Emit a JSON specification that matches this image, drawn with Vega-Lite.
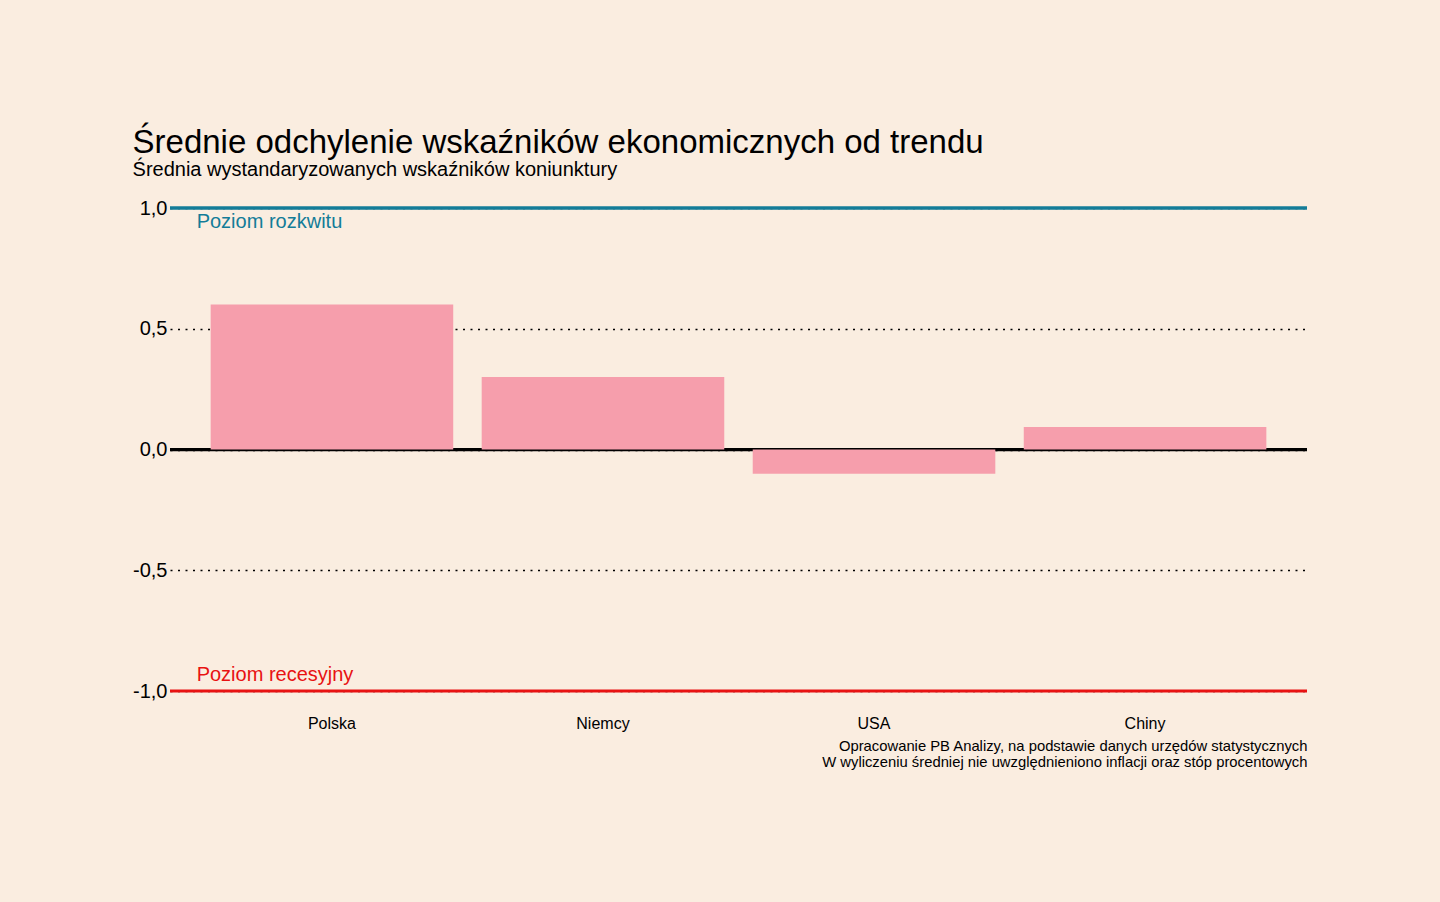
{
  "$schema": "https://vega.github.io/schema/vega-lite/v6.json",
  "autosize": "none",
  "padding": {"left": 170, "top": 208, "right": 133, "bottom": 211},
  "width": 1137,
  "height": 483,
  "background": "#FAEDE0",
  "config": {
    "font": "Liberation Sans",
    "view": {"stroke": null}
  },
  "title": {
    "text": "Średnie odchylenie wskaźników ekonomicznych od trendu",
    "subtitle": "Średnia wystandaryzowanych wskaźników koniunktury",
    "anchor": "start",
    "frame": "bounds",
    "fontSize": 33,
    "fontWeight": "normal",
    "color": "#000000",
    "subtitleFontSize": 20,
    "subtitleColor": "#000000",
    "subtitlePadding": 0,
    "offset": 18
  },
  "datasets": {
    "levels": [
      {"value": 1, "kind": "rozkwit"},
      {"value": 0, "kind": "zero"},
      {"value": -1, "kind": "recesja"}
    ],
    "countries": [
      {"country": "Polska", "value": 0.6},
      {"country": "Niemcy", "value": 0.3},
      {"country": "USA", "value": -0.1},
      {"country": "Chiny", "value": 0.093}
    ],
    "labels": [
      {"country": "Polska", "value": 1, "label": "Poziom rozkwitu", "kind": "rozkwit"},
      {"country": "Polska", "value": -1, "label": "Poziom recesyjny", "kind": "recesja"}
    ]
  },
  "encoding": {
    "x": {
      "field": "country",
      "type": "nominal",
      "scale": {"domain": ["Polska", "Niemcy", "USA", "Chiny"], "paddingInner": 0.105, "paddingOuter": 0.15}
    },
    "y": {"field": "value", "type": "quantitative", "scale": {"domain": [-1, 1]}}
  },
  "layer": [
    {
      "data": {"name": "levels"},
      "mark": {"type": "rule"},
      "encoding": {
        "x": null,
        "color": {
          "field": "kind",
          "type": "nominal",
          "scale": {"domain": ["rozkwit", "zero", "recesja"], "range": ["#137C98", "#000000", "#E81212"]},
          "legend": null
        },
        "strokeWidth": {
          "field": "kind",
          "type": "nominal",
          "scale": {"domain": ["rozkwit", "zero", "recesja"], "range": [3.5, 3, 3.5]},
          "legend": null
        }
      }
    },
    {
      "data": {"name": "countries"},
      "mark": {"type": "bar", "color": "#F69EAC"},
      "encoding": {
        "x": {
          "field": "country",
          "type": "nominal",
          "axis": {
            "title": [
              "Opracowanie PB Analizy, na podstawie danych urzędów statystycznych",
              "W wyliczeniu średniej nie uwzględnieniono inflacji oraz stóp procentowych"
            ],
            "titleAnchor": "end",
            "titleAlign": "right",
            "titleBaseline": "top",
            "titleFontSize": 14.8,
            "titleFontWeight": "normal",
            "titleColor": "#000000",
            "titleLineHeight": 16,
            "titlePadding": 7,
            "labelAngle": 0,
            "labelFontSize": 16,
            "labelColor": "#000000",
            "labelPadding": 24,
            "domain": false,
            "ticks": false,
            "grid": false
          }
        },
        "y": {
          "field": "value",
          "type": "quantitative",
          "axis": {
            "title": null,
            "values": [-1, -0.5, 0, 0.5, 1],
            "labelExpr": "replace(replace(format(datum.value, '.1f'), '.', ','), '\u2212', '-')",
            "labelFontSize": 20,
            "labelColor": "#000000",
            "labelPadding": 3,
            "domain": false,
            "ticks": false,
            "grid": true,
            "gridColor": "#000000",
            "gridDash": [2, 5.5],
            "gridWidth": 1.6
          }
        }
      }
    },
    {
      "data": {"name": "labels"},
      "transform": [{"filter": "datum.value > 0"}],
      "mark": {"type": "text", "align": "left", "baseline": "top", "fontSize": 20, "dx": -14, "dy": 4, "color": "#137C98"},
      "encoding": {
        "x": {"field": "country", "type": "nominal", "bandPosition": 0},
        "text": {"field": "label"}
      }
    },
    {
      "data": {"name": "labels"},
      "transform": [{"filter": "datum.value < 0"}],
      "mark": {"type": "text", "align": "left", "baseline": "alphabetic", "fontSize": 20, "dx": -14, "dy": -10, "color": "#E81212"},
      "encoding": {
        "x": {"field": "country", "type": "nominal", "bandPosition": 0},
        "text": {"field": "label"}
      }
    }
  ]
}
